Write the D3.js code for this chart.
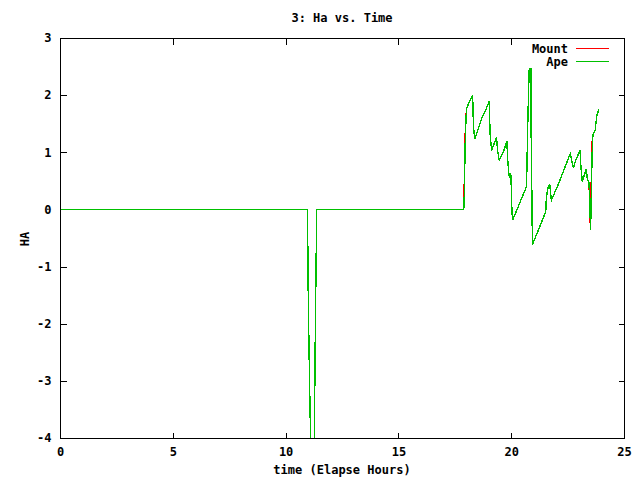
<!DOCTYPE html>
<html>
<head>
<meta charset="utf-8">
<script src="https://cdn.jsdelivr.net/npm/d3@7"></script>
<style>
  html, body { margin: 0; padding: 0; background: #fff; }
  svg { display: block; }
  text { font-family: "DejaVu Sans Mono", "Liberation Mono", monospace; font-weight: bold; font-size: 12px; fill: #000; }
</style>
</head>
<body>
<svg id="chart" width="640" height="480"></svg>
<script>
// ---- data ----
const timeHours = [0, 10.97, 11.01, 11.07, 11.12, 11.15, 11.24, 11.26, 11.32, 11.38,
  17.89, 17.91, 17.94, 17.97, 18.02, 18.29, 18.33, 18.39, 18.55, 18.7, 18.85, 19.03, 19.06, 19.13,
  19.35, 19.39, 19.47, 19.65, 19.81, 19.84, 19.88, 19.92, 19.95, 19.98, 20.0, 20.03, 20.06,
  20.68, 20.73, 20.77, 20.8, 20.87, 20.88, 20.92, 20.94, 21.53, 21.56, 21.65, 21.71,
  21.78, 22.1, 22.57, 22.62, 22.76, 22.85, 23.05, 23.08, 23.15, 23.33, 23.37, 23.45,
  23.49, 23.52, 23.56, 23.59, 23.62, 23.72, 23.79, 23.86, 23.9];
const apeHA = [0, 0, -1.75, -3.2, -4.3, -5.0, -5.0, -4.6, -2.0, 0,
  0, 0.05, 0.7, 1.35, 1.77, 2.0, 1.42, 1.24, 1.42, 1.6, 1.72, 1.9, 1.35, 1.03,
  1.26, 1.05, 0.86, 1.0, 1.2, 0.9, 0.69, 0.55, 0.63, 0.63, 0.43, 0.0, -0.19,
  0.4, 1.42, 2.06, 2.47, 2.47, 1.5, 0.13, -0.62, -0.04, 0.22, 0.41, 0.43,
  0.16, 0.45, 0.93, 0.97, 0.72, 0.85, 1.03, 0.8, 0.49, 0.71, 0.55, 0.46,
  0.0, -0.36, 0.5, 1.0, 1.3, 1.38, 1.63, 1.72, 1.75];
const mountHA = [0, 0, -1.75, -3.2, -4.3, -5.0, -5.0, -4.6, -2.0, 0,
  0, 0.3, 0.9, 1.5, 1.77, 2.0, 1.42, 1.24, 1.42, 1.6, 1.72, 1.9, 1.35, 1.03,
  1.26, 1.05, 0.86, 1.0, 1.2, 0.9, 0.69, 0.55, 0.63, 0.63, 0.43, 0.0, -0.19,
  0.4, 1.42, 2.06, 2.47, 2.47, 1.5, 0.13, -0.62, -0.04, 0.22, 0.41, 0.43,
  0.16, 0.45, 0.93, 0.97, 0.72, 0.85, 1.03, 0.8, 0.49, 0.71, 0.55, 0.46,
  -0.15, -0.36, 0.9, 1.2, 1.3, 1.38, 1.63, 1.72, 1.75];
const xTicks = [0, 5, 10, 15, 20, 25];
const yTicks = [-4, -3, -2, -1, 0, 1, 2, 3];
const seriesNames = ["Mount", "Ape"];
const seriesColors = ["#ff0000", "#00c000"];
const titleText = "3: Ha vs. Time";
const xLabel = "time (Elapse Hours)";
const yLabel = "HA";

// ---- layout ----
const L = 60, R = 624, T = 38, B = 438;
const svg = d3.select("#chart");
const x = d3.scaleLinear().domain([0, 25]).range([L, R]);
const y = d3.scaleLinear().domain([-4, 3]).range([B, T]);

// clip
svg.append("defs").append("clipPath").attr("id", "plotclip")
  .append("rect").attr("x", L).attr("y", T).attr("width", R - L + 1).attr("height", B - T + 1);

// axes with inward ticks (mirrored)
const ax = (g, axis) => {
  g.call(axis);
  g.select(".domain").remove();
  g.selectAll(".tick line").attr("stroke", "#000").attr("shape-rendering", "crispEdges");
  g.selectAll(".tick text").attr("fill", "#000");
  g.attr("font-family", null).attr("font-size", null);
};
svg.append("g").attr("transform", `translate(0,${B + 0.5})`)
  .call(g => ax(g, d3.axisBottom(x).tickValues(xTicks).tickFormat(d3.format("d")).tickSizeInner(-6).tickSizeOuter(0).tickPadding(9)));
svg.append("g").attr("transform", `translate(0,${T + 0.5})`)
  .call(g => ax(g, d3.axisTop(x).tickValues(xTicks).tickFormat("").tickSizeInner(-6).tickSizeOuter(0)));
svg.append("g").attr("transform", `translate(${L + 0.5},0)`)
  .call(g => ax(g, d3.axisLeft(y).tickValues(yTicks).tickFormat(d3.format("d")).tickSizeInner(-6).tickSizeOuter(0).tickPadding(9)));
svg.append("g").attr("transform", `translate(${R + 0.5},0)`)
  .call(g => ax(g, d3.axisRight(y).tickValues(yTicks).tickFormat("").tickSizeInner(-6).tickSizeOuter(0)));
svg.selectAll(".tick text").text(function () { return this.textContent.replace("\u2212", "-"); });

// series
const line = d3.line().x(d => x(d[0])).y(d => y(d[1]));
const seriesData = [mountHA, apeHA].map(vals => timeHours.map((t, i) => [t, vals[i]]));
const plot = svg.append("g").attr("clip-path", "url(#plotclip)");
seriesData.forEach((pts, i) => {
  plot.append("path").datum(pts)
    .attr("d", line)
    .attr("fill", "none")
    .attr("stroke", seriesColors[i])
    .attr("stroke-width", 1.4)
    .attr("shape-rendering", "crispEdges");
});

// border
svg.append("rect").attr("x", L + 0.5).attr("y", T + 0.5).attr("width", R - L).attr("height", B - T)
  .attr("fill", "none").attr("stroke", "#000").attr("shape-rendering", "crispEdges");

// legend
const legend = svg.append("g");
seriesNames.forEach((name, i) => {
  const ly = 49 + i * 13;
  legend.append("text").attr("x", 568).attr("y", ly).attr("dy", "0.35em")
    .attr("text-anchor", "end").text(name);
  legend.append("line").attr("x1", 576).attr("x2", 609)
    .attr("y1", ly - 0.5).attr("y2", ly - 0.5)
    .attr("stroke", seriesColors[i]).attr("stroke-width", 1).attr("shape-rendering", "crispEdges");
});

// title & labels
svg.append("text").attr("x", (L + R) / 2).attr("y", 18).attr("dy", "0.35em")
  .attr("text-anchor", "middle").text(titleText);
svg.append("text").attr("x", (L + R) / 2).attr("y", 470).attr("dy", "0.35em")
  .attr("text-anchor", "middle").text(xLabel);
svg.append("text").attr("transform", "translate(25,239) rotate(-90)").attr("dy", "0.35em")
  .attr("text-anchor", "middle").text(yLabel);
</script>
</body>
</html>
